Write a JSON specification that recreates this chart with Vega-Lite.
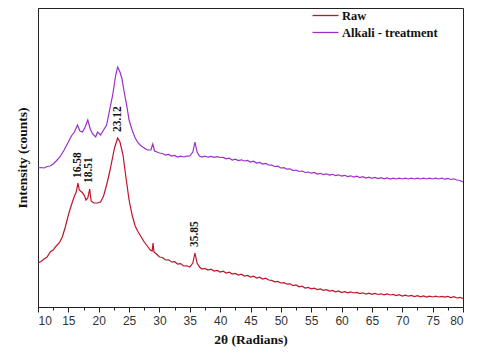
{
  "$schema": "https://vega.github.io/schema/vega-lite/v6.json",
  "width": 425,
  "height": 299,
  "autosize": {"type": "none"},
  "padding": {"left": 38, "top": 8, "right": 17, "bottom": 46},
  "background": "white",
  "config": {
    "view": {"stroke": "#222", "strokeWidth": 1},
    "axis": {"domainColor": "#222", "tickColor": "#222", "grid": false}
  },
  "datasets": {
    "raw": [
      {"x": 10, "y": 44}, {"x": 10.5, "y": 45.5}, {"x": 11, "y": 48}, {"x": 11.5, "y": 50}, {"x": 12, "y": 55}, {"x": 12.5, "y": 57}, {"x": 13, "y": 61}, {"x": 13.5, "y": 64}, {"x": 14, "y": 70}, {"x": 14.5, "y": 80}, {"x": 15, "y": 92}, {"x": 15.5, "y": 102}, {"x": 16, "y": 111}, {"x": 16.3, "y": 115}, {"x": 16.58, "y": 124}, {"x": 16.8, "y": 117}, {"x": 17.2, "y": 115}, {"x": 17.6, "y": 112}, {"x": 17.9, "y": 107}, {"x": 18.2, "y": 109}, {"x": 18.51, "y": 118}, {"x": 18.75, "y": 106}, {"x": 19.2, "y": 104}, {"x": 19.8, "y": 104}, {"x": 20.3, "y": 105}, {"x": 20.8, "y": 111}, {"x": 21.3, "y": 122}, {"x": 21.8, "y": 135}, {"x": 22.2, "y": 147}, {"x": 22.6, "y": 159}, {"x": 23.12, "y": 169}, {"x": 23.5, "y": 165}, {"x": 24, "y": 152}, {"x": 24.5, "y": 129}, {"x": 25, "y": 107}, {"x": 25.5, "y": 92}, {"x": 26, "y": 81}, {"x": 26.5, "y": 75}, {"x": 27, "y": 70}, {"x": 27.5, "y": 65}, {"x": 28, "y": 61}, {"x": 28.5, "y": 57}, {"x": 28.8, "y": 56}, {"x": 28.95, "y": 64}, {"x": 29.1, "y": 55}, {"x": 29.5, "y": 53}, {"x": 30, "y": 50}, {"x": 30.5, "y": 49.5}, {"x": 31, "y": 47}, {"x": 31.5, "y": 47.2}, {"x": 32, "y": 45}, {"x": 32.5, "y": 45.3}, {"x": 33, "y": 43}, {"x": 33.5, "y": 43.4}, {"x": 34, "y": 41}, {"x": 34.5, "y": 41.2}, {"x": 35, "y": 40}, {"x": 35.5, "y": 44}, {"x": 35.85, "y": 54}, {"x": 36.2, "y": 44}, {"x": 36.6, "y": 40},
      {"x": 37, "y": 38}, {"x": 37.5, "y": 38.6}, {"x": 38, "y": 37}, {"x": 38.5, "y": 37.8}, {"x": 39, "y": 36}, {"x": 39.5, "y": 36.6}, {"x": 40, "y": 35}, {"x": 40.5, "y": 35.8}, {"x": 41, "y": 34}, {"x": 41.5, "y": 34.8}, {"x": 42, "y": 33}, {"x": 42.5, "y": 33.6}, {"x": 43, "y": 32}, {"x": 43.5, "y": 32.8}, {"x": 44, "y": 31}, {"x": 44.5, "y": 31.6}, {"x": 45, "y": 30}, {"x": 45.5, "y": 30.8}, {"x": 46, "y": 29}, {"x": 46.5, "y": 29.8}, {"x": 47, "y": 28}, {"x": 47.5, "y": 28.8}, {"x": 48, "y": 27}, {"x": 48.5, "y": 26.6}, {"x": 49, "y": 25.2}, {"x": 49.5, "y": 25.6}, {"x": 50, "y": 24}, {"x": 50.5, "y": 24.4}, {"x": 51, "y": 22.8}, {"x": 51.5, "y": 23.2}, {"x": 52, "y": 21.5}, {"x": 52.5, "y": 22}, {"x": 53, "y": 20.2}, {"x": 53.5, "y": 20.8}, {"x": 54, "y": 19}, {"x": 54.5, "y": 19.6}, {"x": 55, "y": 18.2}, {"x": 55.5, "y": 18.9}, {"x": 56, "y": 17.5}, {"x": 56.5, "y": 18.1}, {"x": 57, "y": 16.7}, {"x": 57.5, "y": 17.4}, {"x": 58, "y": 16}, {"x": 58.5, "y": 16.6}, {"x": 59, "y": 15.2}, {"x": 59.5, "y": 16}, {"x": 60, "y": 14.5}, {"x": 60.5, "y": 15.3}, {"x": 61, "y": 14.2}, {"x": 61.5, "y": 15}, {"x": 62, "y": 14}, {"x": 62.5, "y": 14.6}, {"x": 63, "y": 13.4}, {"x": 63.5, "y": 14.2}, {"x": 64, "y": 13}, {"x": 64.5, "y": 13.8}, {"x": 65, "y": 12.7}, {"x": 65.5, "y": 13.5}, {"x": 66, "y": 12.5}, {"x": 66.5, "y": 13.2}, {"x": 67, "y": 12.2}, {"x": 67.5, "y": 13}, {"x": 68, "y": 12}, {"x": 68.5, "y": 12.6}, {"x": 69, "y": 11.5}, {"x": 69.5, "y": 12.3}, {"x": 70, "y": 11}, {"x": 70.5, "y": 11.9}, {"x": 71, "y": 10.8}, {"x": 71.5, "y": 11.6}, {"x": 72, "y": 10.5}, {"x": 72.5, "y": 11.4}, {"x": 73, "y": 10.2}, {"x": 73.5, "y": 11.1}, {"x": 74, "y": 10}, {"x": 74.5, "y": 10.9}, {"x": 75, "y": 10}, {"x": 75.5, "y": 10.8}, {"x": 76, "y": 10}, {"x": 76.5, "y": 10.6}, {"x": 77, "y": 9.8}, {"x": 77.5, "y": 10.6}, {"x": 78, "y": 9.5}, {"x": 78.5, "y": 10.3}, {"x": 79, "y": 9}, {"x": 79.5, "y": 9.6}, {"x": 80, "y": 8.5}
    ],
    "alk": [
      {"x": 10, "y": 139}, {"x": 10.5, "y": 139.5}, {"x": 11, "y": 139}, {"x": 11.5, "y": 140.5}, {"x": 12, "y": 141}, {"x": 12.5, "y": 143}, {"x": 13, "y": 146}, {"x": 13.6, "y": 150}, {"x": 14.3, "y": 157}, {"x": 15, "y": 165}, {"x": 15.5, "y": 171}, {"x": 16, "y": 175}, {"x": 16.5, "y": 182}, {"x": 16.9, "y": 176}, {"x": 17.3, "y": 175}, {"x": 17.7, "y": 179}, {"x": 18.2, "y": 187}, {"x": 18.6, "y": 178}, {"x": 19, "y": 173}, {"x": 19.5, "y": 170}, {"x": 19.8, "y": 175}, {"x": 20.3, "y": 172}, {"x": 20.8, "y": 177}, {"x": 21.3, "y": 182}, {"x": 21.8, "y": 197}, {"x": 22.3, "y": 212}, {"x": 22.8, "y": 232}, {"x": 23.12, "y": 240}, {"x": 23.5, "y": 235}, {"x": 23.8, "y": 229}, {"x": 24.2, "y": 215}, {"x": 24.6, "y": 202}, {"x": 25, "y": 187}, {"x": 25.5, "y": 177}, {"x": 26, "y": 169}, {"x": 26.5, "y": 164}, {"x": 27, "y": 161}, {"x": 27.5, "y": 159}, {"x": 28, "y": 157}, {"x": 28.6, "y": 157}, {"x": 28.9, "y": 163}, {"x": 29.2, "y": 156}, {"x": 29.6, "y": 155}, {"x": 30, "y": 154}, {"x": 30.5, "y": 153.5}, {"x": 31, "y": 152}, {"x": 31.5, "y": 152.6}, {"x": 32, "y": 151}, {"x": 32.5, "y": 151.6}, {"x": 33, "y": 150}, {"x": 33.5, "y": 150.8}, {"x": 34, "y": 150}, {"x": 34.5, "y": 150.8}, {"x": 35, "y": 151}, {"x": 35.5, "y": 155}, {"x": 35.85, "y": 165}, {"x": 36.2, "y": 155}, {"x": 36.6, "y": 151},
      {"x": 37, "y": 150}, {"x": 37.5, "y": 150.8}, {"x": 38, "y": 149.8}, {"x": 38.5, "y": 150.6}, {"x": 39, "y": 149.6}, {"x": 39.5, "y": 150.3}, {"x": 40, "y": 149.5}, {"x": 40.5, "y": 149.6}, {"x": 41, "y": 148.2}, {"x": 41.5, "y": 148.8}, {"x": 42, "y": 147}, {"x": 42.5, "y": 147.8}, {"x": 43, "y": 146.4}, {"x": 43.5, "y": 147.2}, {"x": 44, "y": 146}, {"x": 44.5, "y": 146.6}, {"x": 45, "y": 145}, {"x": 45.5, "y": 145.8}, {"x": 46, "y": 144}, {"x": 46.5, "y": 144.6}, {"x": 47, "y": 143}, {"x": 47.5, "y": 143.6}, {"x": 48, "y": 142}, {"x": 48.5, "y": 141.8}, {"x": 49, "y": 140.5}, {"x": 49.5, "y": 140.8}, {"x": 50, "y": 139}, {"x": 50.5, "y": 139.4}, {"x": 51, "y": 137.8}, {"x": 51.5, "y": 138.2}, {"x": 52, "y": 136.5}, {"x": 52.5, "y": 137}, {"x": 53, "y": 135.5}, {"x": 53.5, "y": 136}, {"x": 54, "y": 134.5}, {"x": 54.5, "y": 135}, {"x": 55, "y": 133.8}, {"x": 55.5, "y": 134.5}, {"x": 56, "y": 133}, {"x": 56.5, "y": 133.7}, {"x": 57, "y": 132.5}, {"x": 57.5, "y": 133.2}, {"x": 58, "y": 132}, {"x": 58.5, "y": 132.7}, {"x": 59, "y": 131.5}, {"x": 59.5, "y": 132.2}, {"x": 60, "y": 131}, {"x": 60.5, "y": 131.7}, {"x": 61, "y": 130.5}, {"x": 61.5, "y": 131.2}, {"x": 62, "y": 130}, {"x": 62.5, "y": 130.8}, {"x": 63, "y": 129.5}, {"x": 63.5, "y": 130.3}, {"x": 64, "y": 129}, {"x": 64.5, "y": 129.8}, {"x": 65, "y": 128.7}, {"x": 65.5, "y": 129.5}, {"x": 66, "y": 128.5}, {"x": 66.5, "y": 129.3}, {"x": 67, "y": 128.2}, {"x": 67.5, "y": 129}, {"x": 68, "y": 128}, {"x": 68.5, "y": 128.8}, {"x": 69, "y": 128}, {"x": 69.5, "y": 128.8}, {"x": 70, "y": 128}, {"x": 70.5, "y": 128.8}, {"x": 71, "y": 128}, {"x": 71.5, "y": 128.8}, {"x": 72, "y": 128}, {"x": 72.5, "y": 128.8}, {"x": 73, "y": 128}, {"x": 73.5, "y": 128.8}, {"x": 74, "y": 128}, {"x": 74.5, "y": 128.8}, {"x": 75, "y": 128}, {"x": 75.5, "y": 128.8}, {"x": 76, "y": 128}, {"x": 76.5, "y": 128.8}, {"x": 77, "y": 127.8}, {"x": 77.5, "y": 128.6}, {"x": 78, "y": 127.5}, {"x": 78.5, "y": 128.2}, {"x": 79, "y": 127}, {"x": 79.5, "y": 126.5}, {"x": 80, "y": 125}
    ],
    "peaks": [
      {"x": 16.6, "y": 129, "t": "16.58"},
      {"x": 18.4, "y": 124, "t": "18.51"},
      {"x": 23.2, "y": 175, "t": "23.12"},
      {"x": 35.85, "y": 60, "t": "35.85"}
    ]
  },
  "encoding": {
    "x": {
      "field": "x", "type": "quantitative",
      "scale": {"domain": [10, 80], "nice": false, "zero": false},
      "axis": {
        "title": "2θ (Radians)",
        "values": [10, 12.5, 15, 17.5, 20, 22.5, 25, 27.5, 30, 32.5, 35, 37.5, 40, 42.5, 45, 47.5, 50, 52.5, 55, 57.5, 60, 62.5, 65, 67.5, 70, 72.5, 75, 77.5, 80],
        "labelExpr": "datum.value % 5 === 0 ? datum.value : ''",
        "labelOverlap": false,
        "labelFont": "Liberation Sans", "labelFontSize": 12, "labelColor": "#333",
        "labelPadding": 3,
        "tickSize": {"condition": {"test": "datum.value % 5 === 0", "value": 5}, "value": 3},
        "titleFont": "Liberation Serif", "titleFontSize": 13.5, "titleFontWeight": "bold", "titleColor": "#111",
        "titlePadding": 6
      }
    },
    "y": {
      "field": "y", "type": "quantitative",
      "scale": {"domain": [0, 299], "nice": false, "zero": false},
      "axis": {
        "title": "Intensity (counts)", "labels": false, "ticks": false,
        "titleFont": "Liberation Serif", "titleFontSize": 13.5, "titleFontWeight": "bold", "titleColor": "#111",
        "titlePadding": 9
      }
    }
  },
  "layer": [
    {
      "data": {"name": "raw"},
      "mark": {"type": "line", "strokeWidth": 1.2, "interpolate": "linear"},
      "encoding": {"color": {"datum": "Raw"}}
    },
    {
      "data": {"name": "alk"},
      "mark": {"type": "line", "strokeWidth": 1.2, "interpolate": "linear"},
      "encoding": {
        "color": {
          "datum": "Alkali - treatment",
          "scale": {"domain": ["Raw", "Alkali - treatment"], "range": ["#c0142a", "#9b2fc9"]},
          "legend": {
            "title": null, "orient": "none", "legendX": 280, "legendY": 0,
            "symbolType": "M-2,0H2", "symbolSize": 169, "symbolStrokeWidth": 1.3,
            "labelFont": "Liberation Serif", "labelFontSize": 12.5, "labelFontWeight": "bold", "labelColor": "#111",
            "labelOffset": 9, "rowPadding": 3, "padding": 0
          }
        }
      }
    },
    {
      "data": {"name": "peaks"},
      "mark": {"type": "text", "angle": 270, "align": "left", "baseline": "middle", "font": "Liberation Serif", "fontSize": 11.5, "fontWeight": "bold", "color": "#111"},
      "encoding": {"text": {"field": "t"}}
    }
  ]
}
